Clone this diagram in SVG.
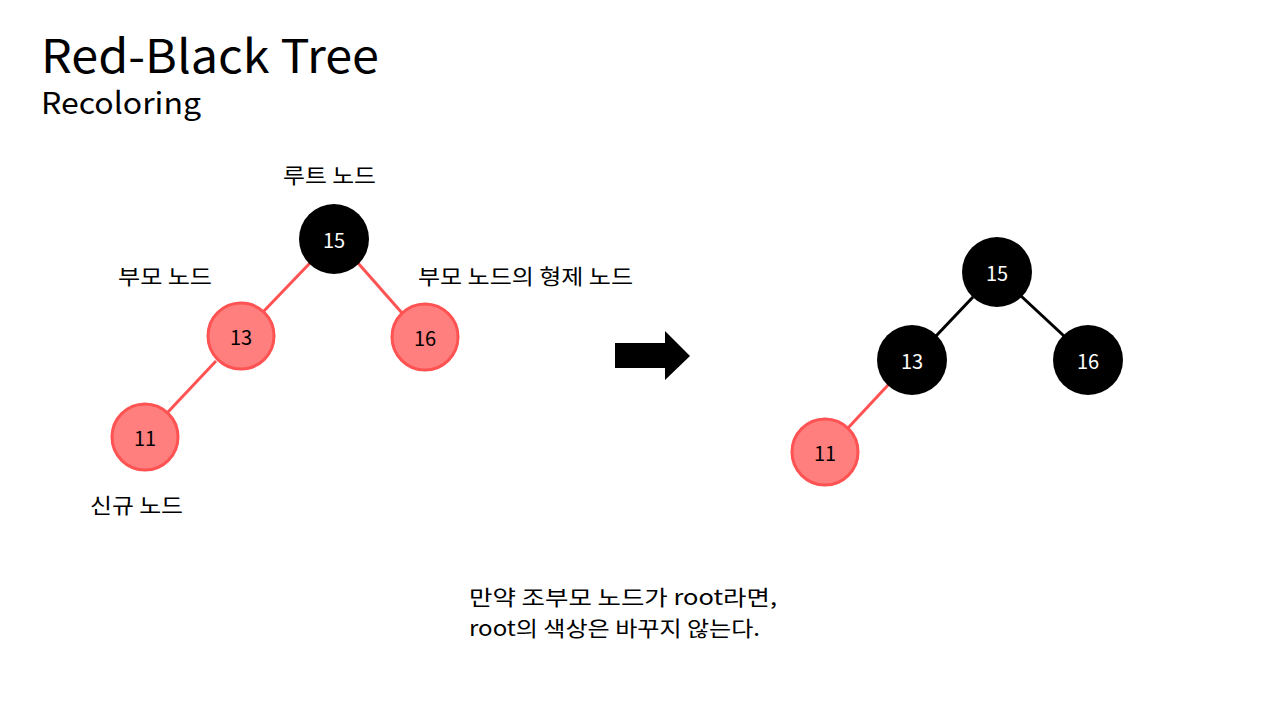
<svg xmlns="http://www.w3.org/2000/svg" width="1280" height="720" viewBox="0 0 1280 720">
<style>
text{font-family:"Noto Sans CJK KR","Noto Sans",sans-serif;fill:#000}
.lbl{font-size:21px}
.num{font-size:20px;text-anchor:middle;dominant-baseline:central}
.blk circle{fill:#000}
.blk text{fill:#fff}
.red circle{fill:#FF7F7F;stroke:#FF5252;stroke-width:3}
.er{stroke:#FF5252;stroke-width:3}
.eb{stroke:#000;stroke-width:3}
</style>
<rect width="1280" height="720" fill="#fff"/>
<text x="41" y="73" style="font-size:46px" textLength="338" lengthAdjust="spacingAndGlyphs">Red-Black Tree</text>
<text x="41" y="114" style="font-size:30px" textLength="160" lengthAdjust="spacingAndGlyphs">Recoloring</text>
<g id="connectors">
<line class="er" x1="310" y1="263" x2="263" y2="312"/>
<line class="er" x1="358" y1="263" x2="402" y2="313"/>
<line class="er" x1="216" y1="361" x2="168" y2="412"/>
<line class="eb" x1="973" y1="297" x2="936" y2="336"/>
<line class="eb" x1="1021" y1="296" x2="1064" y2="336"/>
<line class="er" x1="889" y1="384" x2="848" y2="428"/>
</g>
<g id="n15a" class="blk"><circle cx="334" cy="239" r="35"/><text class="num" x="334" y="239">15</text></g>
<g id="n13a" class="red"><circle cx="241" cy="336" r="33"/><text class="num" x="241" y="336">13</text></g>
<g id="n16a" class="red"><circle cx="425" cy="337" r="33"/><text class="num" x="425" y="337">16</text></g>
<g id="n11a" class="red"><circle cx="145" cy="437" r="33"/><text class="num" x="145" y="437">11</text></g>
<g id="lbl-root"><text class="lbl" x="283" y="183" textLength="93" lengthAdjust="spacingAndGlyphs">루트 노드</text></g>
<g id="lbl-parent"><text class="lbl" x="118" y="284" textLength="94" lengthAdjust="spacingAndGlyphs">부모 노드</text></g>
<g id="lbl-uncle"><text class="lbl" x="418" y="284" textLength="215" lengthAdjust="spacingAndGlyphs">부모 노드의 형제 노드</text></g>
<g id="lbl-new"><text class="lbl" x="90" y="513" textLength="93" lengthAdjust="spacingAndGlyphs">신규 노드</text></g>
<g id="arrow"><polygon points="615,343 665,343 665,331 690,356 665,380 665,368 615,368" fill="#000"/></g>
<g id="n15b" class="blk"><circle cx="997" cy="272" r="35"/><text class="num" x="997" y="272">15</text></g>
<g id="n13b" class="blk"><circle cx="912" cy="360" r="35"/><text class="num" x="912" y="360">13</text></g>
<g id="n16b" class="blk"><circle cx="1088" cy="360" r="35"/><text class="num" x="1088" y="360">16</text></g>
<g id="n11b" class="red"><circle cx="825" cy="452" r="33"/><text class="num" x="825" y="452">11</text></g>
<g id="note"><text class="lbl" x="469" y="605" textLength="308" lengthAdjust="spacingAndGlyphs">만약 조부모 노드가 root라면,</text><text class="lbl" x="469" y="636" textLength="291" lengthAdjust="spacingAndGlyphs">root의 색상은 바꾸지 않는다.</text></g>
</svg>
